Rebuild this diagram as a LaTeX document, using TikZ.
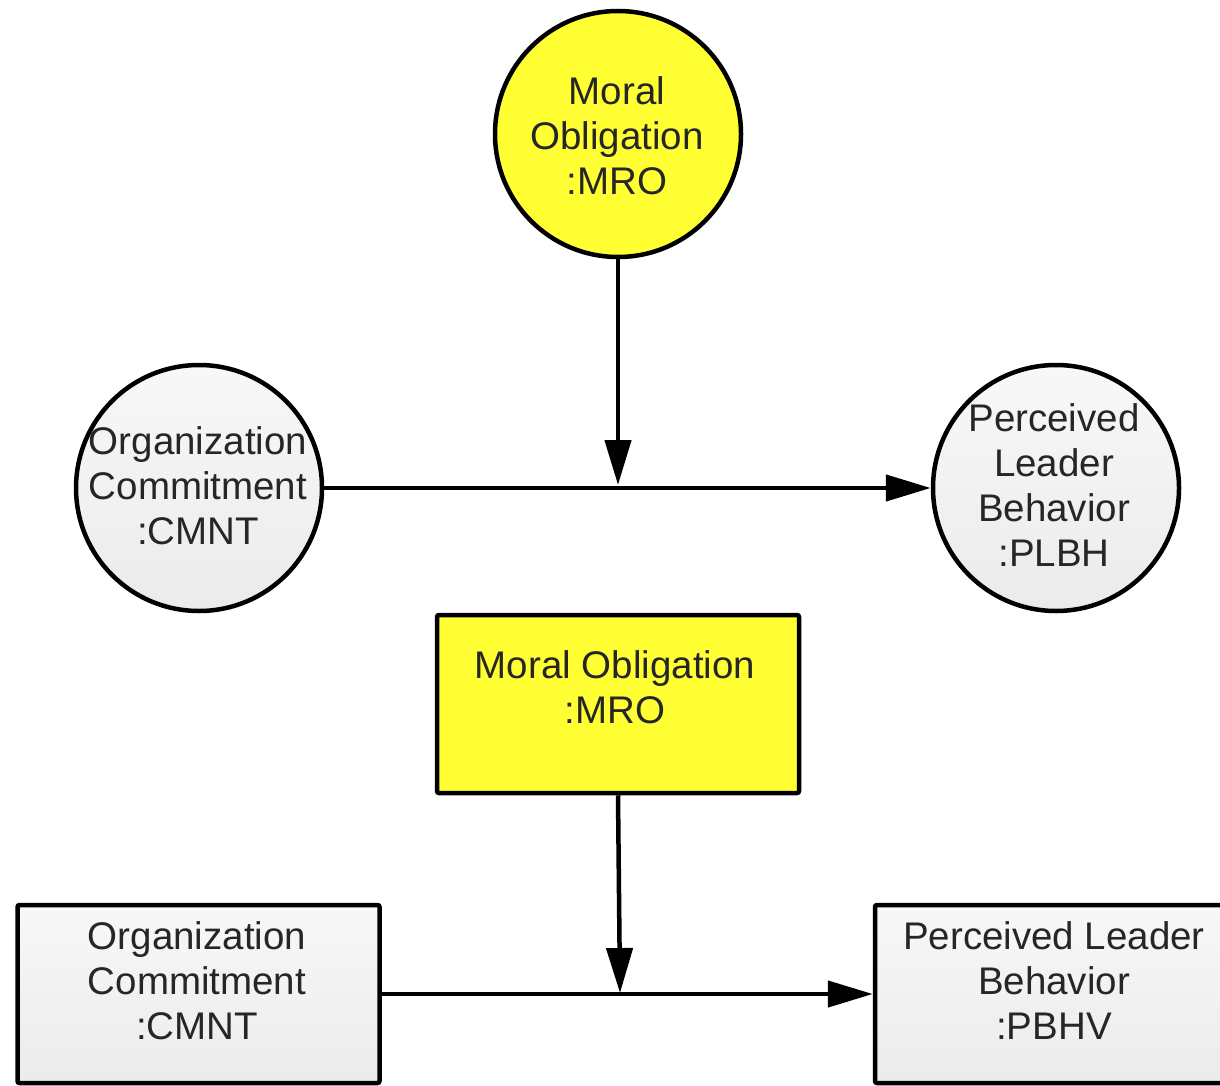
\documentclass[tikz,border=0pt]{standalone}
\usepackage{fontspec}
\setmainfont{Liberation Sans}
\usetikzlibrary{arrows.meta}

\definecolor{inkgray}{HTML}{262626}
\definecolor{mroyellow}{HTML}{FFFF33}
\definecolor{paletop}{HTML}{F8F8F8}
\definecolor{palebottom}{HTML}{EBEBEB}

\tikzset{
  construct/.style={circle, draw=black, line width=4.5pt, minimum size=246pt, inner sep=0pt},
  measure/.style={rectangle, draw=black, line width=4.5pt, rounded corners=2pt,
                  minimum width=362pt, minimum height=178pt, inner sep=0pt},
  pale/.style={top color=paletop, bottom color=palebottom},
  moderator/.style={fill=mroyellow},
  caption/.style={inner sep=0pt, align=center, text=inkgray,
                  font=\fontsize{38.5}{45}\selectfont},
  path/.style={draw=black, line width=4.5pt, -{Triangle[length=45pt, width=26pt]}}
}

\begin{document}
\begin{tikzpicture}[x=1pt, y=-1pt]
  \clip (0,0) rectangle (1220,1086);
  \fill[white] (0,0) rectangle (1220,1086);

  % construct level: circles
  \node[construct, moderator] (mroC) at (618,134) {};
  \node[construct, pale]      (cmntC) at (199,488) {};
  \node[construct, pale]      (plbhC) at (1056,488) {};

  \node[caption, anchor=north] (mroCt)  at (617,76)   {Moral\\Obligation\\:MRO};
  \node[caption, anchor=north] (cmntCt) at (198,426)  {Organization\\Commitment\\:CMNT};
  \node[caption, anchor=north] (plbhCt) at (1054,403) {Perceived\\Leader\\Behavior\\:PLBH};

  \coordinate (joinC) at (618,485);
  \draw[path] (cmntC) -- (plbhC);
  \draw[path] (mroC) -- (joinC);

  % measurement level: boxes
  \node[measure, moderator] (mroB)  at (618,704) {};
  \node[measure, pale]      (cmntB) at (198.5,994) {};
  \node[measure, pale]      (pbhvB) at (1056,994) {};

  \node[caption, anchor=north] (mroBt)  at (615,650)  {Moral Obligation\\:MRO};
  \node[caption, anchor=north] (cmntBt) at (197,921)  {Organization\\Commitment\\:CMNT};
  \node[caption, anchor=north] (pbhvBt) at (1054,921) {Perceived Leader\\Behavior\\:PBHV};

  \coordinate (joinB) at (620,993);
  \draw[path] (cmntB) -- (pbhvB);
  \draw[path] (mroB.south) -- (joinB);
\end{tikzpicture}
\end{document}
